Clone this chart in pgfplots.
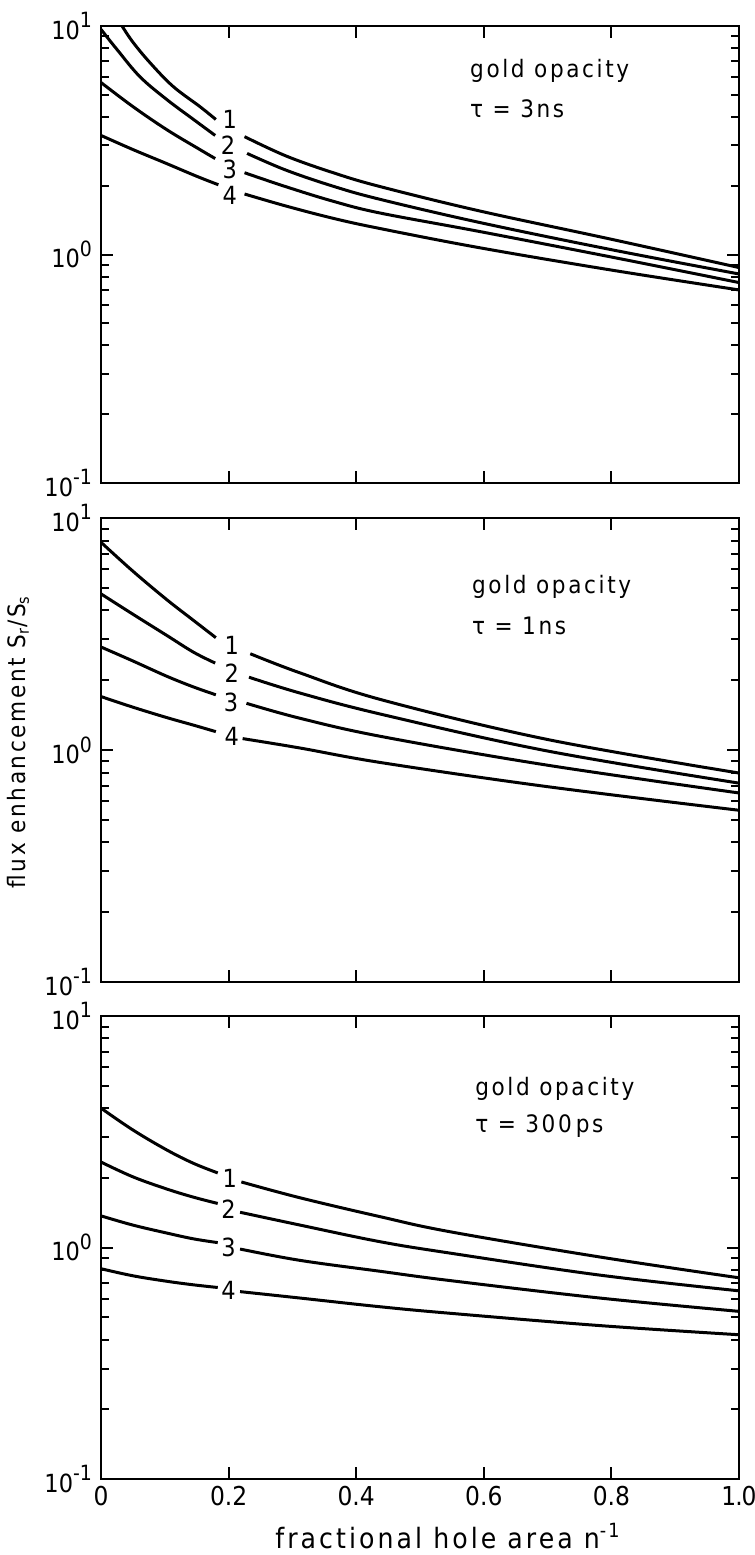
\documentclass[border=0pt]{standalone}
\usepackage{fontspec}
\setmainfont{DejaVu Sans Condensed}
\newfontfamily\spc[LetterSpace=11]{DejaVu Sans Condensed}
\usepackage{pgfplots}
\pgfplotsset{compat=1.18}

\newcommand{\tp}[1]{10\raisebox{0.45em}{\fontsize{10.5}{12}\selectfont #1}}
\pgfplotsset{
  every axis/.append style={
    scale only axis, width=319pt,
    xmin=0, xmax=1, ymin=0.1, ymax=10,
    xtick={0,0.2,0.4,0.6,0.8,1},
    ytick={0.1,1,10},
    yticklabels={\tp{-1},\tp{0},\tp{1}},
    tick align=inside, xtick pos=both, ytick pos=both,
    major tick length=6pt, minor tick length=4pt,
    axis line style={line width=1.2pt},
    every tick/.style={line width=1pt, black},
    yticklabel style={font=\fontsize{12.5}{14}\selectfont, xshift=-1pt},
    xticklabel style={font=\fontsize{13}{15}\selectfont},
    cycle list={black,solid,line width=1.5pt,smooth,tension=0.6\\},
  },
}
\newcommand{\lab}[3]{\node[font=\fontsize{12.5}{14}\selectfont] at (axis cs:#1,#2) {#3};}
\newcommand{\ann}[4]{%
  \node[anchor=base west, font=\spc\fontsize{12}{14}\selectfont, inner sep=0pt] at (rel axis cs:#1,#2) {gold opacity};
  \node[anchor=base west, font=\spc\fontsize{12}{14}\selectfont, inner sep=0pt] at (rel axis cs:#1,#3) {τ = #4};}

\begin{document}
\begin{tikzpicture}
\path[use as bounding box] (-50.5pt,13pt) rectangle (327pt,-764.5pt);

% tau = 3 ns
\begin{semilogyaxis}[xticklabels={}, height=228.5pt, at={(0,0)}, anchor=north west]
\addplot coordinates {(0.033,10) (0.05,8.5) (0.077,6.9) (0.113,5.44) (0.155,4.44) (0.18,3.9)};
\addplot coordinates {(0.225,3.28) (0.29,2.7) (0.364,2.28) (0.437,1.985) (0.594,1.55) (0.8,1.166) (1,0.877)};
\addplot coordinates {(0,9.67) (0.025,7.9) (0.061,6.0) (0.103,4.77) (0.145,3.9) (0.179,3.32)};
\addplot coordinates {(0.229,2.77) (0.29,2.34) (0.364,1.99) (0.437,1.745) (0.594,1.38) (0.8,1.05) (1,0.822)};
\addplot coordinates {(0,5.66) (0.05,4.44) (0.103,3.52) (0.155,2.88) (0.179,2.63)};
\addplot coordinates {(0.225,2.28) (0.29,1.98) (0.364,1.71) (0.437,1.52) (0.594,1.26) (0.8,0.975) (1,0.754)};
\addplot coordinates {(0,3.32) (0.05,2.88) (0.1,2.52) (0.15,2.2) (0.184,2.02)};
\addplot coordinates {(0.225,1.84) (0.29,1.63) (0.364,1.44) (0.437,1.3) (0.594,1.07) (0.8,0.855) (1,0.7)};
\lab{0.202}{3.9}{1}
\lab{0.199}{3.0}{2}
\lab{0.202}{2.36}{3}
\lab{0.202}{1.82}{4}
\ann{0.578}{0.888}{0.80}{3ns}
\end{semilogyaxis}

% tau = 1 ns
\begin{semilogyaxis}[xticklabels={}, height=232pt, at={(0,-246pt)}, anchor=north west]
\addplot coordinates {(0,7.86) (0.05,5.9) (0.103,4.45) (0.145,3.62) (0.18,3.05)};
\addplot coordinates {(0.234,2.6) (0.312,2.15) (0.442,1.64) (0.7,1.11) (1,0.796)};
\addplot coordinates {(0,4.71) (0.05,3.85) (0.103,3.12) (0.145,2.64) (0.179,2.37)};
\addplot coordinates {(0.232,2.06) (0.312,1.76) (0.442,1.42) (0.7,0.99) (1,0.72)};
\addplot coordinates {(0,2.78) (0.05,2.42) (0.103,2.08) (0.145,1.87) (0.18,1.73)};
\addplot coordinates {(0.228,1.59) (0.312,1.37) (0.442,1.14) (0.7,0.86) (1,0.653)};
\addplot coordinates {(0,1.7) (0.05,1.53) (0.103,1.38) (0.145,1.28) (0.18,1.2)};
\addplot coordinates {(0.222,1.12) (0.312,1.02) (0.442,0.88) (0.7,0.695) (1,0.55)};
\lab{0.205}{2.83}{1}
\lab{0.205}{2.15}{2}
\lab{0.204}{1.61}{3}
\lab{0.205}{1.14}{4}
\ann{0.581}{0.838}{0.748}{1ns}
\end{semilogyaxis}
\node[rotate=90, font=\spc\fontsize{12}{14}\selectfont] at (-41.5pt,-358pt) {flux enhancement S\textsubscript{r}/S\textsubscript{s}};

% tau = 300 ps
\begin{semilogyaxis}[height=231.5pt, at={(0,-495pt)}, anchor=north west,
  xticklabels={0,0.2,0.4,0.6,0.8,1\kern-0.5pt.\kern-0.5pt0},
  xlabel={fractional hole area n\textsuperscript{-1}},
  xlabel style={font=\spc\fontsize{14}{16}\selectfont, yshift=-2pt, xshift=14pt}]
\addplot coordinates {(0,4.0) (0.05,3.22) (0.103,2.64) (0.145,2.31) (0.183,2.1)};
\addplot coordinates {(0.22,1.92) (0.312,1.64) (0.437,1.36) (0.547,1.17) (0.782,0.91) (1,0.74)};
\addplot coordinates {(0,2.34) (0.05,2.02) (0.103,1.79) (0.145,1.65) (0.183,1.55)};
\addplot coordinates {(0.218,1.42) (0.312,1.25) (0.437,1.06) (0.547,0.946) (0.782,0.76) (1,0.65)};
\addplot coordinates {(0,1.37) (0.05,1.25) (0.103,1.155) (0.145,1.09) (0.183,1.05)};
\addplot coordinates {(0.218,0.985) (0.312,0.88) (0.437,0.79) (0.547,0.72) (0.782,0.605) (1,0.53)};
\addplot coordinates {(0,0.81) (0.05,0.755) (0.103,0.715) (0.145,0.69) (0.183,0.672)};
\addplot coordinates {(0.218,0.645) (0.312,0.605) (0.437,0.555) (0.547,0.52) (0.782,0.46) (1,0.42)};
\lab{0.202}{1.995}{1}
\lab{0.2}{1.47}{2}
\lab{0.2}{1.0}{3}
\lab{0.2}{0.655}{4}
\ann{0.586}{0.829}{0.749}{300\,ps}
\end{semilogyaxis}
\end{tikzpicture}
\end{document}
